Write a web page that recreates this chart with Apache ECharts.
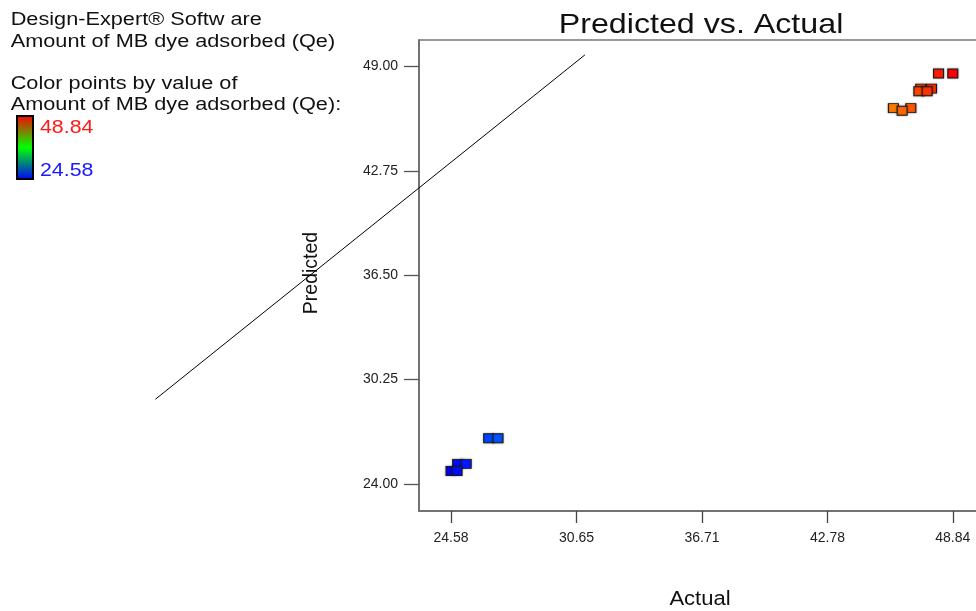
<!DOCTYPE html>
<html>
<head>
<meta charset="utf-8">
<script src="https://cdn.jsdelivr.net/npm/echarts@6/dist/echarts.min.js"></script>
<style>html,body{margin:0;padding:0;background:#fff;overflow:hidden;}#c{width:1000px;height:611px;}</style>
</head>
<body>
<div id="c"></div>
<script>
// ---- data ----
const xTicks = [24.58, 30.65, 36.71, 42.78, 48.84];
const yTicks = [24.00, 30.25, 36.50, 42.75, 49.00];
const actual    = [24.90, 25.31, 24.58, 24.87, 26.40, 26.85, 45.97, 46.81, 46.39, 47.29, 47.81, 47.20, 47.60, 48.15, 48.84];
const predicted = [25.20, 25.20, 24.78, 24.78, 26.74, 26.74, 46.50, 46.50, 46.34, 47.67, 47.67, 47.51, 47.51, 48.57, 48.57];
const lineActual    = [10.28, 31.05];
const linePredicted = [29.07, 49.69];
const colorMin = 24.58, colorMax = 48.84;
const headerLines = ['Design-Expert\u00AE Softw are', 'Amount of MB dye adsorbed (Qe)', 'Color points by value of', 'Amount of MB dye adsorbed (Qe):'];
const titleText = 'Predicted vs. Actual';
const xName = 'Actual', yName = 'Predicted';

const chart = echarts.init(document.getElementById('c'), null, {renderer: 'canvas'});
const pts = actual.map((a, i) => [a, predicted[i]]);
const linePts = lineActual.map((a, i) => [a, linePredicted[i]]);
const FONT = 'Arial, "Liberation Sans", sans-serif';
const headerY = [20.3, 41.7, 84.2, 105];

const graphics = headerLines.map((t, i) => ({
  type: 'text', x: 10.7, y: headerY[i], scaleX: 1.24,
  style: {text: t, font: '17.5px ' + FONT, fill: '#111', align: 'left', verticalAlign: 'middle'}
}));
graphics.push(
  {type: 'rect', shape: {x: 17, y: 116, width: 16, height: 63},
   style: {fill: new echarts.graphic.LinearGradient(0, 0, 0, 1, [
     {offset: 0, color: '#ff0000'}, {offset: 0.5, color: '#00ff00'}, {offset: 1, color: '#0000ff'}]),
     stroke: '#000', lineWidth: 2}},
  {type: 'text', x: 40, y: 127.8, scaleX: 1.22,
   style: {text: colorMax.toFixed(2), font: '17.5px ' + FONT, fill: '#ff1a1a', align: 'left', verticalAlign: 'middle'}},
  {type: 'text', x: 40, y: 171.5, scaleX: 1.22,
   style: {text: colorMin.toFixed(2), font: '17.5px ' + FONT, fill: '#1a1aff', align: 'left', verticalAlign: 'middle'}},
  {type: 'text', x: 701, y: 25, scaleX: 1.15,
   style: {text: titleText, font: '28px ' + FONT, fill: '#111', align: 'center', verticalAlign: 'middle'}},
  {type: 'text', x: 700, y: 599.7, scaleX: 1.13,
   style: {text: xName, font: '19.5px ' + FONT, fill: '#111', align: 'center', verticalAlign: 'middle'}},
  {type: 'text', x: 312, y: 273, rotation: Math.PI / 2,
   style: {text: yName, font: '19.5px ' + FONT, fill: '#111', align: 'center', verticalAlign: 'middle'}}
);

chart.setOption({
  animation: false,
  backgroundColor: '#fff',
  grid: [
    {left: 419, top: 40, width: 570, height: 471, show: true, borderColor: '#777', borderWidth: 1.5, containLabel: false},
    {left: 100, top: 40, width: 889, height: 471, show: false, containLabel: false}
  ],
  xAxis: [{
    type: 'value', gridIndex: 0, min: 23.03, max: 50.59,
    axisLine: {show: true, lineStyle: {color: '#666', width: 1.5}},
    axisTick: {show: true, length: 12, customValues: xTicks, lineStyle: {color: '#444', width: 1.3}},
    axisLabel: {customValues: xTicks, margin: 20, formatter: v => v.toFixed(2), fontFamily: FONT, fontSize: 14, color: '#222'},
    splitLine: {show: false}
  }, {
    type: 'value', gridIndex: 1, min: 7.60, max: 50.59, show: false, splitLine: {show: false}
  }],
  yAxis: [{
    type: 'value', gridIndex: 0, min: 22.38, max: 50.58,
    axisLine: {show: true, lineStyle: {color: '#666', width: 1.5}},
    axisTick: {show: true, length: 15, customValues: yTicks, lineStyle: {color: '#555', width: 1.3}},
    axisLabel: {customValues: yTicks, margin: 21, formatter: v => v.toFixed(2), fontFamily: FONT, fontSize: 14, color: '#222'},
    splitLine: {show: false}
  }, {
    type: 'value', gridIndex: 1, min: 22.38, max: 50.58, show: false, splitLine: {show: false}
  }],
  visualMap: {
    type: 'continuous', show: false, min: colorMin, max: colorMax, dimension: 0, seriesIndex: 1,
    inRange: {color: ['#0000ff', '#0070ff', '#00b0c0', '#00e060', '#00ff00', '#80ff00', '#ffd000', '#ff8000', '#ff0000']}
  },
  series: [
    {type: 'line', xAxisIndex: 1, yAxisIndex: 1, data: linePts, symbol: 'none', silent: true,
     lineStyle: {color: '#000', width: 1}},
    {type: 'scatter', xAxisIndex: 0, yAxisIndex: 0, data: pts, symbol: 'rect', symbolSize: [10, 9], clip: false,
     itemStyle: {borderColor: '#1a1a1a', borderWidth: 1, opacity: 1, shadowBlur: 2, shadowColor: 'rgba(0,0,0,0.35)'}}
  ],
  graphic: graphics
});
</script>
</body>
</html>
